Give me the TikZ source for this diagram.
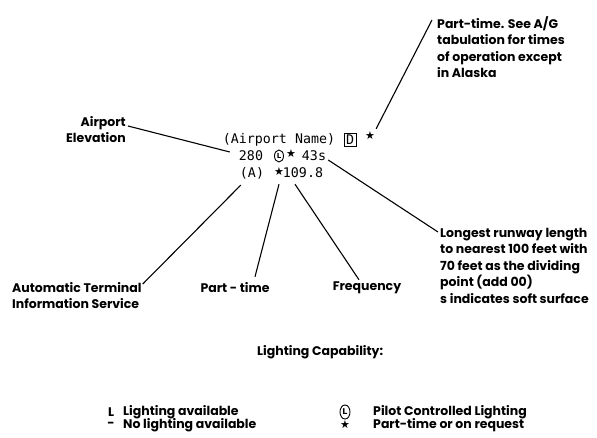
\documentclass[tikz,border=0pt]{standalone}
\usepackage{fontspec}
\usetikzlibrary{shapes.geometric}
\setmainfont{Poppins}
\newfontfamily\datafont{DejaVu Sans Mono}
\newfontfamily\symfont{DejaVu Sans}
\begin{document}
\begin{tikzpicture}
        [
        x=1pt, y=-1pt,
        note/.style={font=\bfseries\fontsize{12.5}{16.5}\selectfont, inner sep=0pt},
        data/.style={font=\datafont\fontsize{13.3}{14}\selectfont, inner sep=0pt},
        sym/.style={font=\symfont\fontsize{11}{11}\selectfont, inner sep=0pt},
        lcircle/.style={draw, ellipse, line width=0.9pt, inner sep=0pt,
            minimum width=9pt, minimum height=12pt, font=\symfont\bfseries\fontsize{7}{7}\selectfont},
        lead/.style={line width=1.1pt},
        ]
        \useasboundingbox (0,0) rectangle (597,438);
        % airport data block
        \node[data] (name) at (279,140) {(Airport Name)};
        \node[data, draw, line width=0.8pt, inner sep=2pt] (dbox) at (350,140) {D};
        \node[sym] (dstar) at (370,136) {★};
        \node[data] (elev) at (251,156) {280};
        \node[lcircle] (lcl) at (279,156) {L};
        \node[sym] (lstar) at (291,154) {★};
        \node[data] (rwy) at (314,156) {43s};
        \node[data] (atis) at (252,173) {(A)};
        \node[sym] (fstar) at (279,172) {★};
        \node[data] (freq) at (303,173) {109.8};
        % explanations
        \node[note, align=left, anchor=north west] (ptnote) at (437,16)
            {Part-time. See A/G\\tabulation for times\\of operation except\\in Alaska};
        \node[note, align=right, anchor=north east] (elevnote) at (126,116)
            {Airport\\Elevation};
        \node[note, align=left, anchor=north west] (atisnote) at (12,282)
            {Automatic Terminal\\Information Service};
        \node[note] (ptlabel) at (235,288) {Part - time};
        \node[note] (freqlabel) at (367,288) {Frequency};
        \node[note, align=left, anchor=north west] (rwynote) at (440,228)
            {Longest runway length\\to nearest 100 feet with\\70 feet as the dividing\\point (add 00)\\s indicates soft surface};
        % leaders
        \draw[lead] ([xshift=-5pt,yshift=-4pt]ptnote.north west) -- ([xshift=1pt,yshift=3pt]dstar.north east);
        \draw[lead] ([xshift=2pt,yshift=-10pt]elevnote.north east) -- ([xshift=-9pt,yshift=4pt]elev.west);
        \draw[lead] ([xshift=1pt,yshift=-2pt]atisnote.north east) -- ([xshift=1pt,yshift=-6pt]atis.south west);
        \draw[lead] ([xshift=20pt,yshift=6pt]ptlabel.north) -- ([yshift=-8pt]fstar.south);
        \draw[lead] ([xshift=-8pt,yshift=2pt]freqlabel.north) -- ([xshift=-8pt,yshift=-6pt]freq.south);
        \draw[lead] ([xshift=2pt,yshift=-4pt]rwy.east) -- ([xshift=-2pt,yshift=-4pt]rwynote.north west);
        % legend
        \node[note, anchor=west] (legtitle) at (257,352) {Lighting Capability:};
        \node[note] (lkey) at (111,412) {L};
        \node[note, anchor=west] (ltext) at (123,412) {Lighting available};
        \node[note] (nkey) at (111,425) {-};
        \node[note, anchor=west] (ntext) at (123,425) {No lighting available};
        \node[lcircle, minimum width=10pt, minimum height=14pt, font=\symfont\bfseries\fontsize{8}{8}\selectfont] (pkey) at (345,412) {L};
        \node[note, anchor=west] (ptext) at (373,412) {Pilot Controlled Lighting};
        \node[sym] (skey) at (345,425) {★};
        \node[note, anchor=west] (stext) at (373,425) {Part-time or on request};
\end{tikzpicture}
\end{document}
